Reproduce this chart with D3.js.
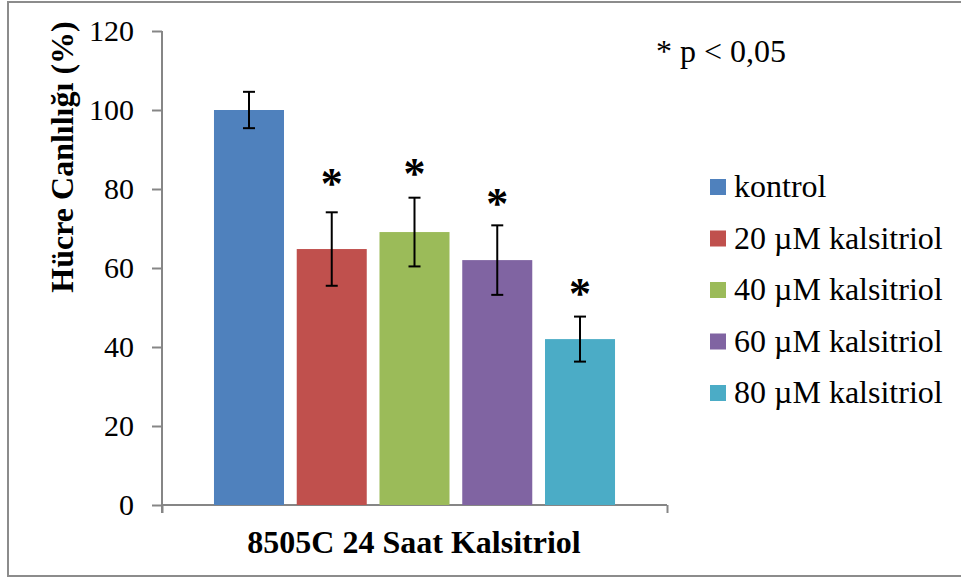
<!DOCTYPE html>
<html><head><meta charset="utf-8">
<script src="https://cdn.jsdelivr.net/npm/d3@7"></script>
<style>body{margin:0;background:#fff}svg{display:block}svg text{font-family:'Liberation Serif','Times New Roman','DejaVu Serif',serif !important;fill:#000}</style>
</head><body><svg id="c" width="961" height="578"></svg>
<script>
const categories = ["8505C 24 Saat Kalsitriol"];
const series = ["kontrol", "20 µM kalsitriol", "40 µM kalsitriol", "60 µM kalsitriol", "80 µM kalsitriol"];
const values = [100, 64.8, 69.1, 62.0, 42.0];
const errors = [4.6, 9.3, 8.7, 8.8, 5.7];
const significant = [false, true, true, true, true];
const starLevels = [null, 83, 85.6, 78.1, 55.3];
const yTicks = [0, 20, 40, 60, 80, 100, 120];
const colors = ["#4F81BD", "#C0504D", "#9BBB59", "#8064A2", "#4BACC6"];

const svg = d3.select("#c");
const axisColor = "#868686";
const serif = "'Liberation Serif','Times New Roman','DejaVu Serif',serif";

svg.append("rect").attr("x", 8).attr("y", 2).attr("width", 960).attr("height", 574)
  .attr("fill", "none").attr("stroke", "#8c8c8c").attr("stroke-width", 2);

const y = d3.scaleLinear().domain([0, 120]).range([505, 31]);
const x0 = d3.scaleBand().domain(categories).range([162, 667]).paddingOuter(0.1296).paddingInner(0);
const x1 = d3.scaleBand().domain(series).range([x0(categories[0]), x0(categories[0]) + x0.bandwidth()]).paddingInner(0.154).paddingOuter(0);

// y axis
const yAxis = svg.append("g").attr("transform", "translate(162,0)")
  .call(d3.axisLeft(y).tickValues(yTicks).tickSize(10).tickPadding(18));
yAxis.attr("font-family", serif);
yAxis.select(".domain").attr("stroke", axisColor).attr("stroke-width", 2).attr("d", "M0,31V513");
yAxis.selectAll(".tick line").attr("stroke", axisColor).attr("stroke-width", 2);
yAxis.selectAll(".tick text").attr("font-size", 30).attr("font-family", serif).attr("fill", "#000");

// x axis
const xAxis = svg.append("g").attr("transform", "translate(0,505)")
  .call(d3.axisBottom(d3.scaleLinear().domain([0,1]).range([162, 667])).tickValues([0,1]).tickSize(8).tickFormat(""));
xAxis.select(".domain").attr("stroke", axisColor).attr("stroke-width", 2).attr("d", "M162,0H667");
xAxis.selectAll(".tick line").attr("stroke", axisColor).attr("stroke-width", 2);

// bars
const data = series.map((s, i) => ({s, v: values[i], e: errors[i], c: colors[i], sig: significant[i], star: starLevels[i]}));
svg.append("g").selectAll("rect").data(data).join("rect")
  .attr("x", d => x1(d.s)).attr("width", x1.bandwidth())
  .attr("y", d => y(d.v)).attr("height", d => y(0) - y(d.v)).attr("fill", d => d.c);

// error bars
const eg = svg.append("g").attr("stroke", "#000").attr("stroke-width", 2);
data.forEach(d => {
  const cx = x1(d.s) + x1.bandwidth() / 2;
  eg.append("line").attr("x1", cx).attr("x2", cx).attr("y1", y(d.v + d.e)).attr("y2", y(d.v - d.e));
  eg.append("line").attr("x1", cx - 6).attr("x2", cx + 6).attr("y1", y(d.v + d.e)).attr("y2", y(d.v + d.e));
  eg.append("line").attr("x1", cx - 6).attr("x2", cx + 6).attr("y1", y(d.v - d.e)).attr("y2", y(d.v - d.e));
});

// significance stars
const starSize = 44;
svg.append("g").selectAll("text").data(data.filter(d => d.sig)).join("text")
  .attr("x", d => x1(d.s) + x1.bandwidth() / 2)
  .attr("y", d => y(d.star) + starSize * 0.48)
  .attr("text-anchor", "middle").attr("font-size", starSize).attr("font-weight", "bold").attr("font-family", serif)
  .text("*");

// axis titles
svg.append("text").attr("transform", "translate(73,157) rotate(-90)")
  .attr("text-anchor", "middle").attr("font-size", 32).attr("font-weight", "bold").attr("font-family", serif)
  .text("Hücre Canlılığı (%)");
svg.append("text").attr("x", 414).attr("y", 553)
  .attr("text-anchor", "middle").attr("font-size", 32).attr("font-weight", "bold").attr("font-family", serif)
  .text(categories[0]);

// p note
svg.append("text").attr("x", 656).attr("y", 62).attr("font-size", 32).attr("font-family", serif).text("* p < 0,05");

// legend
const lg = svg.append("g").selectAll("g").data(data).join("g")
  .attr("transform", (d, i) => `translate(710,${187 + i * 51.5})`);
lg.append("rect").attr("x", 0).attr("y", -8).attr("width", 16).attr("height", 16).attr("fill", d => d.c);
lg.append("text").attr("x", 24).attr("y", 10).attr("font-size", 32).attr("font-family", serif).text(d => d.s);
</script></body></html>
